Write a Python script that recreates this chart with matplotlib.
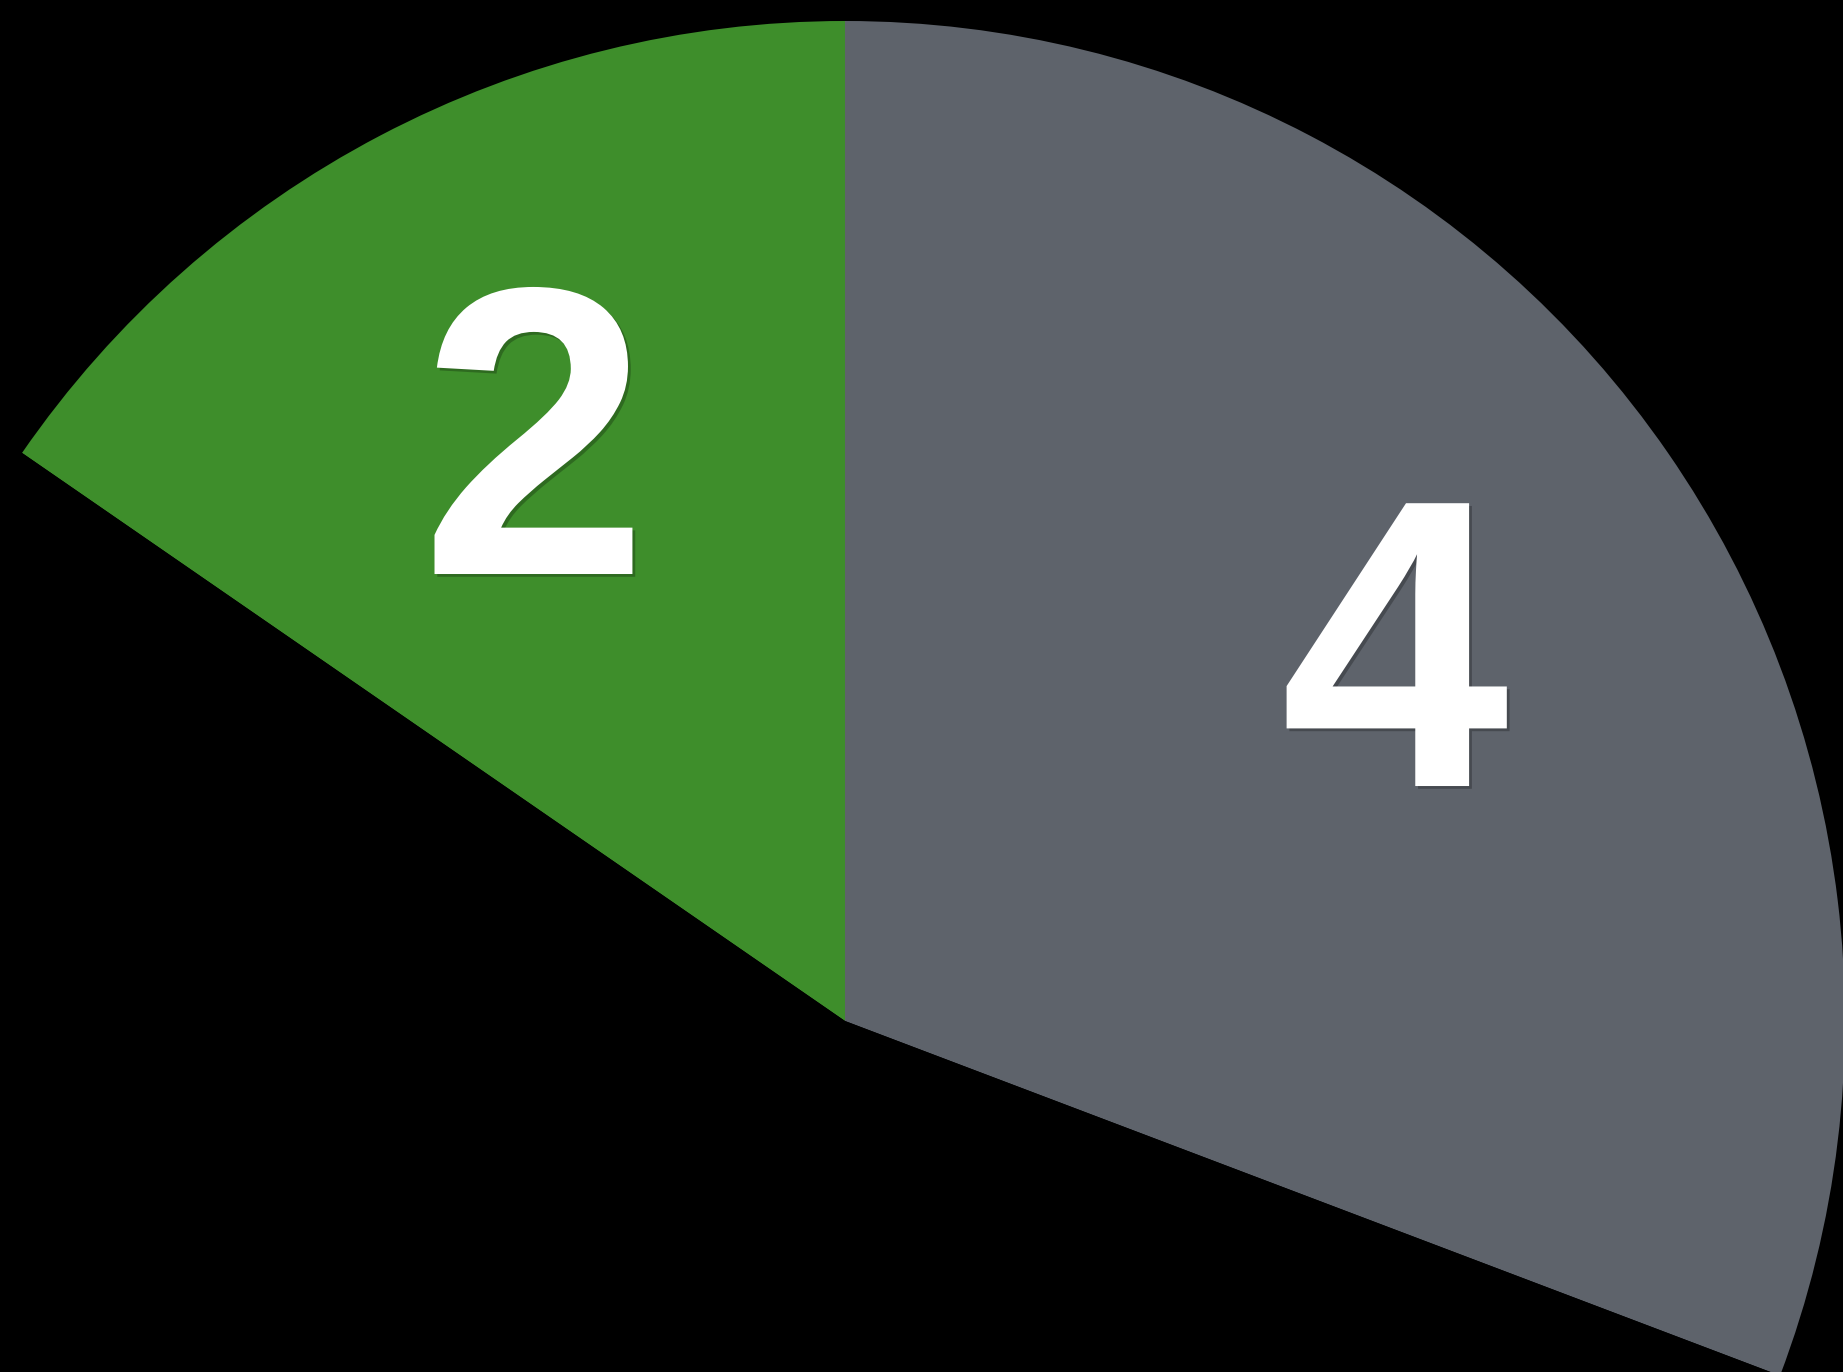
import matplotlib.pyplot as plt
import matplotlib.patheffects as pe
import numpy as np

# slice values; the last slice sits in the dark part of the pie
values = [2, 4, 7]
labels = ["2", "4", ""]
colors = ["#3e8e2b", "#5e636b", "#000000"]

BG = "#000000"


def main():
    fig = plt.figure(figsize=(18.43, 13.72), dpi=100, facecolor=BG)
    ax = fig.add_axes([0, 0, 1, 1])
    ax.set_facecolor(BG)

    # first slice ends at 12 o'clock, slices run clockwise
    start = 90 + 360 * values[0] / sum(values)
    wedges, _ = ax.pie(values, colors=colors, startangle=start, counterclock=False,
                       radius=1.0, wedgeprops={"linewidth": 0, "antialiased": True})

    shadow = [pe.SimplePatchShadow(offset=(2, -2), shadow_rgbFace="black", alpha=0.25),
              pe.Normal()]
    digit_h = 0.289
    for w, lab in zip(wedges, labels):
        if not lab:
            continue
        mid = np.deg2rad((w.theta1 + w.theta2) / 2)
        x = 0.668 * np.cos(mid)
        y = 0.668 * np.sin(mid)
        ax.text(x, y - digit_h / 2, lab, fontsize=296, color="white",
                fontfamily="Liberation Sans", fontweight="bold",
                ha="center", va="baseline", path_effects=shadow)

    ax.set_xlim(-0.845, 0.998)
    ax.set_ylim(-0.351, 1.021)
    ax.set_aspect("auto")
    ax.axis("off")

    fig.savefig("out.png", dpi=100, facecolor=BG)


if __name__ == "__main__":
    main()
